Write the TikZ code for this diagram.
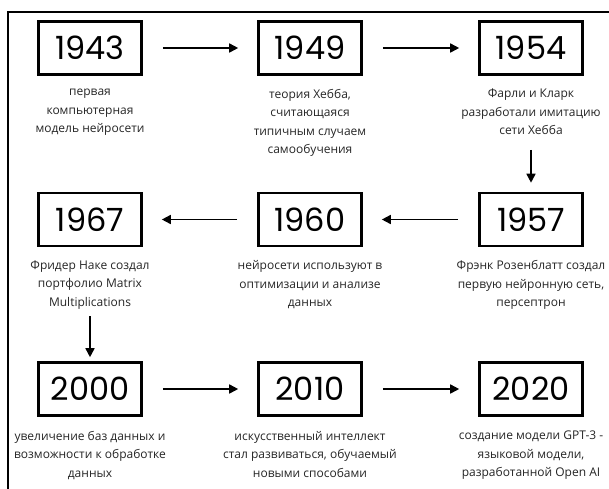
\documentclass[tikz,border=0pt]{standalone}
\usepackage{fontspec}
\setmainfont{Open Sans}
\newfontfamily\yearfont{Poppins}
\usetikzlibrary{arrows.meta}
\begin{document}
\begin{tikzpicture}[x=1pt,y=-1pt,
  yearbox/.style={draw, line width=2.6pt, minimum width=103pt, minimum height=53pt, inner sep=0pt,
    font=\yearfont\fontsize{32}{32}\selectfont},
  desc/.style={anchor=north, align=center, inner sep=0pt,
    font=\fontsize{12}{18.5}\selectfont, text=black!85},
  arr/.style={line width=1.6pt, -{Triangle[length=9pt,width=9pt]}},
  harr/.style={arr, shorten <=20pt, shorten >=19pt}]
\useasboundingbox (0,0) rectangle (609,488);
\fill[white] (0,0) rectangle (609,488);
\draw[line width=1.5pt] (8,490) -- (8,12) -- (611,12);
% row 1
\node[yearbox] (y1943) at (90,48) {1943};
\node[yearbox] (y1949) at (310,48) {1949};
\node[yearbox] (y1954) at (531,48) {1954};
% row 2
\node[yearbox] (y1967) at (90,219.5) {1967};
\node[yearbox] (y1960) at (310,219.5) {1960};
\node[yearbox] (y1957) at (531,219.5) {1957};
% row 3
\node[yearbox] (y2000) at (90,389) {2000};
\node[yearbox] (y2010) at (310,389) {2010};
\node[yearbox] (y2020) at (531,389) {2020};
% descriptions
\node[desc] (t1943) at ([yshift=-13pt]y1943.south) {первая\\компьютерная\\модель нейросети};
\node[desc] (t1949) at ([yshift=-13pt]y1949.south) {теория Хебба,\\считающаяся\\типичным случаем\\самообучения};
\node[desc] (t1954) at ([yshift=-13pt]y1954.south) {Фарли и Кларк\\разработали имитацию\\сети Хебба};
\node[desc] (t1967) at ([yshift=-13pt]y1967.south) {Фридер Наке создал\\портфолио Matrix\\Multiplications};
\node[desc] (t1960) at ([yshift=-13pt]y1960.south) {нейросети используют в\\оптимизации и анализе\\данных};
\node[desc] (t1957) at ([yshift=-13pt]y1957.south) {Фрэнк Розенблатт создал\\первую нейронную сеть,\\персептрон};
\node[desc] (t2000) at ([yshift=-14pt]y2000.south) {увеличение баз данных и\\возможности к обработке\\данных};
\node[desc] (t2010) at ([yshift=-14pt]y2010.south) {искусственный интеллект\\стал развиваться, обучаемый\\новыми способами};
\node[desc] (t2020) at ([yshift=-14pt]y2020.south) {создание модели GPT-3 -\\языковой модели,\\разработанной Open AI};
% connectors
\draw[harr] (y1943) -- (y1949);
\draw[harr] (y1949) -- (y1954);
\draw[arr, shorten <=74pt, shorten >=9pt] (y1954.south) -- (y1957.north);
\draw[harr] (y1957) -- (y1960);
\draw[harr] (y1960) -- (y1967);
\draw[arr, shorten <=69pt, shorten >=4pt] (y1967.south) -- (y2000.north);
\draw[harr] (y2000) -- (y2010);
\draw[harr] (y2010) -- (y2020);
\end{tikzpicture}
\end{document}
